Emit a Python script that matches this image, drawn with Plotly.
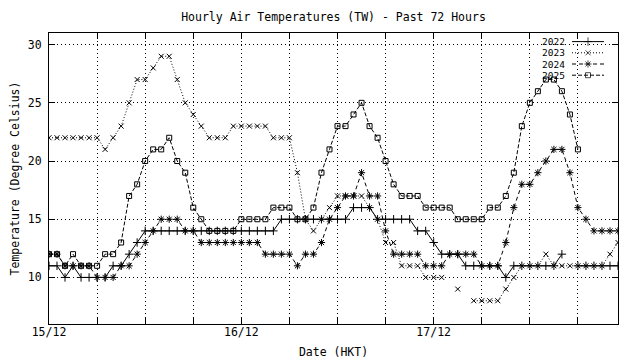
import plotly.graph_objects as go

# ---------------- data ----------------
hours = list(range(72))  # hours since 15/12 00:00 (HKT)
x_tick_hours = [0, 6, 12, 18, 24, 30, 36, 42, 48, 54, 60, 66]
x_tick_labels = ["15/12", "", "", "", "16/12", "", "", "", "17/12", "", "", ""]
y_ticks = [10, 15, 20, 25, 30]
series_names = ["2022", "2023", "2024", "2025"]

t2022 = ([11, 11, 10, 11, 10, 10, 10, 10, 11, 11, 12, 13]
         + [14] * 17 + [15] * 9 + [16] * 3 + [15] * 5 + [14] * 2 + [13]
         + [12] * 3 + [11] * 5 + [10] + [11] * 6 + [12] + [None] + [11] * 6)

t2023 = ([22] * 7 + [21, 22, 23, 25, 27, 27, 28, 29, 29, 27, 25, 24, 23]
         + [22] * 3 + [23] * 5 + [22] * 3 + [19, 15, 14, 15, 16]
         + [17] * 4 + [16, 15] + [13] * 2 + [11] * 3 + [10] * 3
         + [None, 9, None] + [8] * 4 + [9, 10] + [11] * 3 + [12]
         + [11] * 7 + [12, 13])

t2024 = ([12, 12] + [11] * 4 + [10] * 3 + [11] * 2 + [12, 13, 14]
         + [15] * 3 + [14] * 2 + [13] * 8 + [12] * 4 + [11] + [12] * 2
         + [13, 15, 16] + [17] * 2 + [19] + [17] * 2 + [14] + [12] * 4
         + [11] * 3 + [12] * 4 + [11] * 3 + [13, 16] + [18] * 2 + [19, 20]
         + [21] * 2 + [19, 16, 15] + [14] * 4)

t2025 = ([12, 12, 11, 12, 11, 11, 11, 12, 12, 13, 17, 18, 20, 21, 21, 22,
          20, 19, 16, 15] + [14] * 4 + [15] * 4 + [16] * 3 + [15] * 2
         + [16, 19, 21] + [23] * 2 + [24, 25, 23, 22, 20, 18] + [17] * 3
         + [16] * 4 + [15] * 4 + [16] * 2 + [17, 19, 23, 25, 26]
         + [27] * 2 + [26, 24, 21] + [None] * 5)

values = [t2022, t2023, t2024, t2025]

# ---------------- styles ----------------
FONT = "DejaVu Sans Mono"
FS = 11.5
KEY_FS = 9.5
styles = [
    dict(dash="solid", symbol="cross-thin", size=6),
    dict(dash="1px,2px", symbol="x-thin", size=5),
    dict(dash="4px,3px", symbol="asterisk", size=6),
    dict(dash="4px,2px", symbol="square-open", size=5),
]

fig = go.Figure()
for name, vals, st in zip(series_names, values, styles):
    fig.add_trace(go.Scatter(
        x=hours, y=vals, name=name, mode="lines+markers",
        connectgaps=False, showlegend=False,
        line=dict(color="black", width=1, dash=st["dash"]),
        marker=dict(symbol=st["symbol"], size=st["size"], color="black",
                    line=dict(color="black", width=1)),
    ))

# The page body has an 8px margin, so the figure is drawn 8px right/down.
OFF = 8
# plot area in page pixels: x 49..618, y 33..324
PL, PR, PT, PB = 49, 618, 33, 324
W, H = 640 - OFF, 360 - OFF

# ------- gnuplot-style key (text left, sample right), on a page-pixel overlay axis -------
key_y0, key_dy = 41.6, 11.2
for i, (name, st) in enumerate(zip(series_names, styles)):
    ky = key_y0 + i * key_dy
    fig.add_trace(go.Scatter(
        x=[572, 588, 604], y=[ky, ky, ky], xaxis="x2", yaxis="y2",
        mode="lines+markers", showlegend=False, hoverinfo="skip",
        line=dict(color="black", width=1, dash=st["dash"]),
        marker=dict(symbol=st["symbol"], size=[0, st["size"], 0], color="black",
                    line=dict(color="black", width=1)),
    ))
    fig.add_annotation(x=566, y=ky, xref="x2", yref="y2", text=name,
                       showarrow=False, xanchor="right", yanchor="middle",
                       borderpad=0, valign="middle",
                       font=dict(family=FONT, size=KEY_FS, color="black"))

axis_common = dict(
    showline=True, linecolor="black", linewidth=1, mirror="ticks",
    ticks="inside", ticklen=6, tickcolor="black", tickwidth=1,
    showgrid=True, gridcolor="black", gridwidth=1, griddash="1px,3px",
    zeroline=False, tickfont=dict(family=FONT, size=FS, color="black"),
)

fig.update_layout(
    width=W, height=H,
    margin=dict(l=PL - OFF, r=640 - PR, t=PT - OFF, b=360 - PB,
                autoexpand=False),
    paper_bgcolor="white", plot_bgcolor="white",
    font=dict(family=FONT, size=FS, color="black"),
    title=dict(text="Hourly Air Temperatures (TW) - Past 72 Hours",
               x=0.5, xref="paper", xanchor="center",
               y=1 - (17 - OFF) / H, yanchor="middle",
               font=dict(family=FONT, size=FS, color="black")),
    xaxis=dict(range=[0, 71], tickmode="array", tickvals=x_tick_hours,
               ticktext=x_tick_labels, automargin=False,
               ticklabelstandoff=-3,
               title=dict(text="Date (HKT)", standoff=10,
                          font=dict(family=FONT, size=FS)),
               **axis_common),
    yaxis=dict(range=[6, 31], tickmode="array", tickvals=y_ticks,
               automargin=False, ticklabelstandoff=4,
               title=dict(text="Temperature (Degree Celsius)", standoff=9,
                          font=dict(family=FONT, size=FS)),
               **axis_common),
    xaxis2=dict(overlaying="x", anchor="y2", range=[PL, PR], visible=False,
                fixedrange=True),
    yaxis2=dict(overlaying="y", anchor="x2", range=[PB, PT], visible=False,
                fixedrange=True),
    showlegend=False,
)

fig.write_html("out.html")
